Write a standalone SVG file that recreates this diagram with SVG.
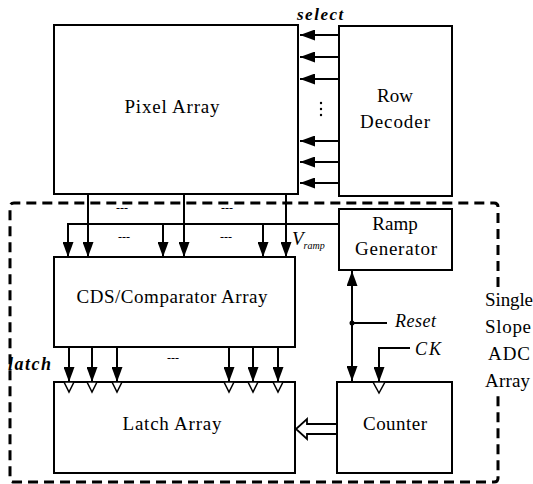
<svg xmlns="http://www.w3.org/2000/svg" width="533" height="484" viewBox="0 0 533 484">
<style>
.box{fill:#fff;stroke:#000;stroke-width:2}
.ln{fill:none;stroke:#000;stroke-width:2}
.lbl{font-family:"Times New Roman","Liberation Serif","DejaVu Serif",serif;font-size:19px;fill:#000}
.it{font-family:"Times New Roman","Liberation Serif","DejaVu Serif",serif;font-style:italic;fill:#000}
.dots{font-family:"Times New Roman","Liberation Serif",serif;font-size:12px;fill:#000}
.clk{fill:#fff;stroke:#000;stroke-width:1.5}
</style>
<defs>
<marker id="ah" viewBox="0 0 15 11" refX="15" refY="5.5" markerWidth="15" markerHeight="11" markerUnits="userSpaceOnUse" orient="auto">
<path d="M0,0 L15,5.5 L0,11 z" fill="#000"/>
</marker>
<marker id="ahs" viewBox="0 0 15 11" refX="0" refY="5.5" markerWidth="15" markerHeight="11" markerUnits="userSpaceOnUse" orient="auto">
<path d="M15,0 L0,5.5 L15,11 z" fill="#000"/>
</marker>
</defs>
<rect width="533" height="484" fill="#fff"/>

<g id="adc-frame">
<path d="M498,287 L498,207 Q498,203 494,203 L14,203 Q10,203 10,207 L10,478 Q10,482 14,482 L494,482 Q498,482 498,478 L498,393" fill="none" stroke="#000" stroke-width="3" stroke-dasharray="10 6"/>
<text class="lbl" x="485" y="306" textLength="48">Single</text>
<text class="lbl" x="485" y="333" textLength="46">Slope</text>
<text class="lbl" x="488" y="360" textLength="42">ADC</text>
<text class="lbl" x="485" y="387" textLength="45">Array</text>
</g>

<g id="connectors">
<line class="ln" x1="339" y1="35" x2="300" y2="35" marker-end="url(#ah)"/>
<line class="ln" x1="339" y1="57" x2="300" y2="57" marker-end="url(#ah)"/>
<line class="ln" x1="339" y1="79" x2="300" y2="79" marker-end="url(#ah)"/>
<line class="ln" x1="339" y1="141" x2="300" y2="141" marker-end="url(#ah)"/>
<line class="ln" x1="339" y1="162" x2="300" y2="162" marker-end="url(#ah)"/>
<line class="ln" x1="339" y1="183" x2="300" y2="183" marker-end="url(#ah)"/>
<circle cx="321" cy="103" r="1.2"/>
<circle cx="321" cy="109" r="1.2"/>
<circle cx="321" cy="115" r="1.2"/>
<line class="ln" x1="88" y1="194" x2="88" y2="257" marker-end="url(#ah)"/>
<line class="ln" x1="184" y1="194" x2="184" y2="257" marker-end="url(#ah)"/>
<line class="ln" x1="286" y1="194" x2="286" y2="257" marker-end="url(#ah)"/>
<polyline class="ln" points="339,224 68,224 68,257" marker-end="url(#ah)"/>
<line class="ln" x1="163" y1="224" x2="163" y2="257" marker-end="url(#ah)"/>
<line class="ln" x1="263" y1="224" x2="263" y2="257" marker-end="url(#ah)"/>
<line class="ln" x1="69" y1="347" x2="69" y2="382" marker-end="url(#ah)"/>
<line class="ln" x1="92" y1="347" x2="92" y2="382" marker-end="url(#ah)"/>
<line class="ln" x1="117" y1="347" x2="117" y2="382" marker-end="url(#ah)"/>
<line class="ln" x1="229" y1="347" x2="229" y2="382" marker-end="url(#ah)"/>
<line class="ln" x1="253" y1="347" x2="253" y2="382" marker-end="url(#ah)"/>
<line class="ln" x1="278" y1="347" x2="278" y2="382" marker-end="url(#ah)"/>
<line class="ln" x1="352" y1="271" x2="352" y2="381" marker-start="url(#ahs)" marker-end="url(#ah)"/>
<circle cx="352" cy="323" r="2.5"/>
<line class="ln" x1="352" y1="323" x2="387" y2="323"/>
<polyline class="ln" points="410,348 379,348 379,382" marker-end="url(#ah)"/>
<path d="M337,424 L307,424 L307,419 L296,429 L307,439 L307,434 L337,434" fill="#fff" stroke="#000" stroke-width="1.8"/>
<text class="dots" x="122" y="212" text-anchor="middle">---</text>
<text class="dots" x="227" y="212" text-anchor="middle">---</text>
<text class="dots" x="124" y="241" text-anchor="middle">---</text>
<text class="dots" x="226" y="241" text-anchor="middle">---</text>
<text class="dots" x="173" y="362" text-anchor="middle">---</text>
<text class="it" x="297" y="20" font-size="17" font-weight="bold" letter-spacing="1.5">select</text>
<text class="it" x="78" y="180" font-size="17">V<tspan font-size="10" dy="5">p</tspan></text>
<text class="it" x="292" y="245" font-size="19">V<tspan font-size="10" dy="4">ramp</tspan></text>
<text class="it" x="8" y="370" font-size="18" font-weight="bold" letter-spacing="1.5">latch</text>
<text class="it" x="395" y="327" font-size="18" letter-spacing="0.5">Reset</text>
<text class="it" x="415" y="355" font-size="18" letter-spacing="2">CK</text>
</g>

<g id="pixel-array">
<rect class="box" x="54" y="25" width="244" height="169"/>
<text class="lbl" x="172" y="113" text-anchor="middle" textLength="95">Pixel Array</text>
</g>

<g id="row-decoder">
<rect class="box" x="339" y="26" width="113" height="170"/>
<text class="lbl" x="395" y="102" text-anchor="middle">Row</text>
<text class="lbl" x="395" y="128" text-anchor="middle" textLength="70">Decoder</text>
</g>

<g id="ramp-generator">
<rect class="box" x="339" y="209" width="113" height="61"/>
<text class="lbl" x="395" y="230" text-anchor="middle">Ramp</text>
<text class="lbl" x="396" y="255" text-anchor="middle" textLength="82">Generator</text>
</g>

<g id="cds-comparator-array">
<rect class="box" x="54" y="257" width="241" height="90"/>
<text class="lbl" x="172" y="303" text-anchor="middle" textLength="191">CDS/Comparator Array</text>
</g>

<g id="latch-array">
<rect class="box" x="54" y="382" width="241" height="91"/>
<polygon class="clk" points="64,382 74,382 69,392"/>
<polygon class="clk" points="87,382 97,382 92,392"/>
<polygon class="clk" points="112,382 122,382 117,392"/>
<polygon class="clk" points="224,382 234,382 229,392"/>
<polygon class="clk" points="248,382 258,382 253,392"/>
<polygon class="clk" points="273,382 283,382 278,392"/>
<text class="lbl" x="172" y="430" text-anchor="middle" textLength="99">Latch Array</text>
</g>

<g id="counter">
<rect class="box" x="337" y="382" width="115" height="91"/>
<polygon class="clk" points="373,382 385,382 379,393"/>
<text class="lbl" x="395" y="430" text-anchor="middle" textLength="64">Counter</text>
</g>
</svg>
